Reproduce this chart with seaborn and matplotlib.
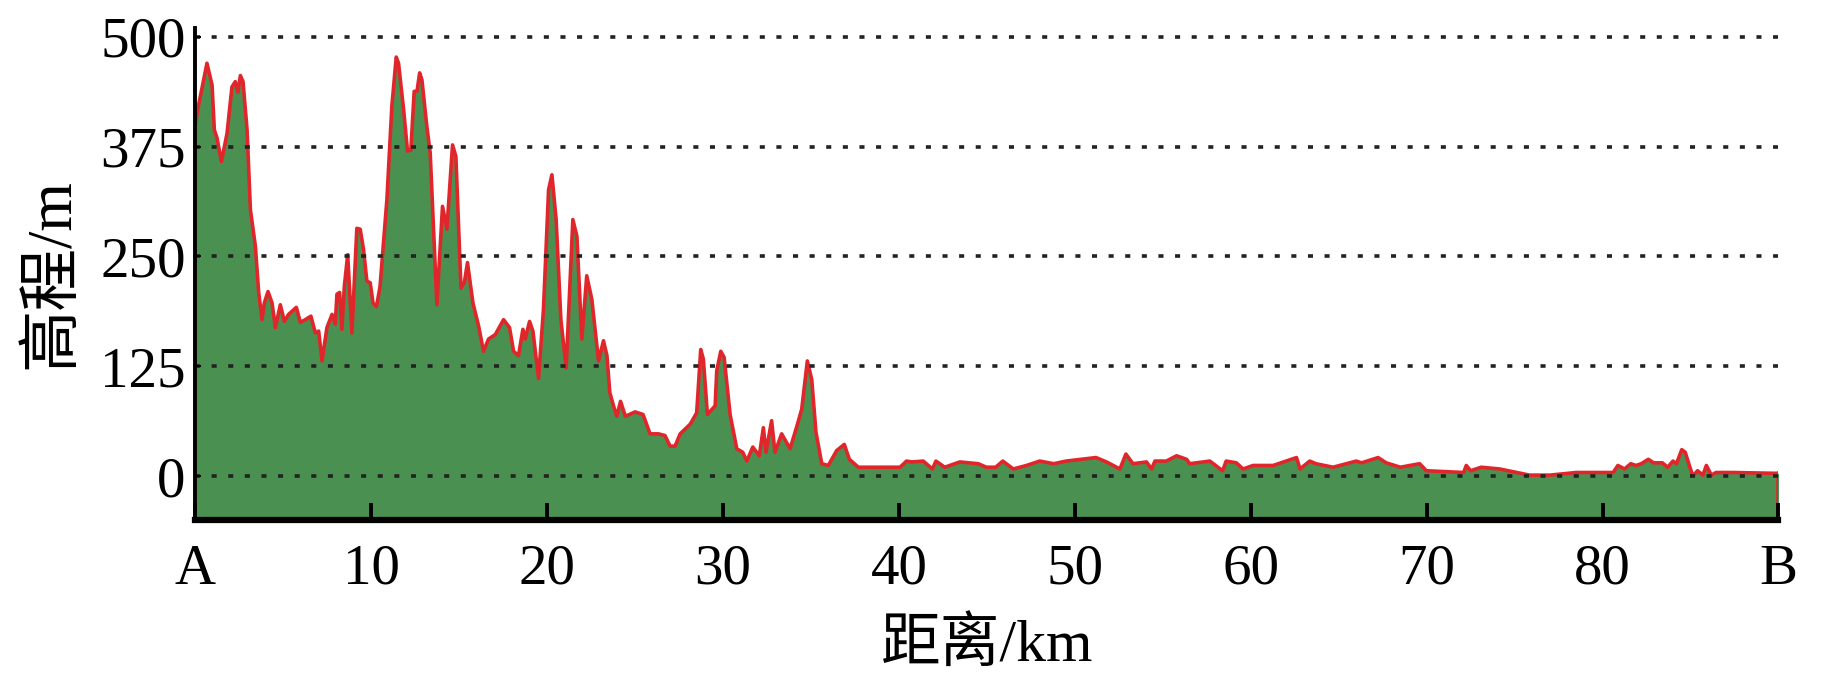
import numpy as np
import pandas as pd
import matplotlib
matplotlib.use('Agg')
import matplotlib.pyplot as plt
import seaborn as sns

# Профиль высот A -> B
km = [0, 0.13, 0.66, 0.95, 1.08, 1.23, 1.48, 1.8, 2.08, 2.27, 2.42, 2.56, 2.71, 2.94,
      3.13, 3.41, 3.6, 3.79, 3.92, 4.13, 4.36, 4.55, 4.83, 5.06, 5.3, 5.74, 5.97, 6.25,
      6.57, 6.82, 7.01, 7.2, 7.48, 7.77, 7.95, 8.05, 8.2, 8.33, 8.47, 8.66, 8.9, 9.18,
      9.37, 9.56, 9.75, 9.94, 10.1, 10.3, 10.5, 10.89, 11.17, 11.42, 11.55, 11.84, 12.06,
      12.25, 12.44, 12.6, 12.75, 12.88, 13.16, 13.35, 13.73, 14.05, 14.3, 14.62, 14.81,
      15.1, 15.29, 15.47, 15.78, 16.1, 16.38, 16.67, 17.05, 17.52, 17.86, 18.09, 18.37,
      18.62, 18.75, 19.0, 19.19, 19.51, 19.79, 20.08, 20.27, 20.51, 20.78, 21.08, 21.46,
      21.69, 21.97, 22.25, 22.54, 22.92, 23.2, 23.4, 23.56, 23.77, 23.96, 24.17, 24.45,
      25.0, 25.45, 25.85, 26.33, 26.7, 26.99, 27.27, 27.56, 28.13, 28.5, 28.73, 28.88,
      29.11, 29.55, 29.64, 29.87, 30.06, 30.4, 30.78, 31.12, 31.35, 31.69, 32.06, 32.29,
      32.44, 32.76, 32.95, 33.33, 33.81, 34.2, 34.47, 34.79, 35.04, 35.28, 35.61, 35.98,
      36.46, 36.89, 37.18, 37.69, 40.06, 40.43, 40.72, 41.38, 41.9, 42.1, 42.6, 43.46,
      44.5, 44.97, 45.5, 45.9, 46.5, 47.25, 48.0, 48.8, 49.5, 51.2, 51.8, 52.56, 52.9,
      53.3, 54.07, 54.36, 54.55, 55.2, 55.78, 56.35, 56.53, 57.67, 58.4, 58.6, 59.18,
      59.56, 60.13, 61.27, 62.6, 62.8, 63.35, 63.7, 64.68, 66.0, 66.3, 67.24, 67.7, 68.5,
      69.6, 69.98, 72.1, 72.25, 72.5, 73.1, 74.15, 75.85, 77.0, 78.5, 80.6, 80.87, 81.25,
      81.6, 81.9, 82.2, 82.6, 82.9, 83.4, 83.7, 84.0, 84.2, 84.5, 84.7, 84.9, 85.13, 85.4,
      85.7, 85.9, 86.18, 86.45, 87.4, 90.0]
elev = [400, 417, 470, 445, 394, 385, 358, 390, 443, 449, 437, 456, 449, 394,
        303, 262, 209, 178, 197, 210, 197, 169, 195, 176, 184, 192, 175, 178,
        182, 163, 165, 131, 169, 184, 173, 207, 209, 167, 216, 252, 163, 282,
        281, 258, 222, 220, 197, 193, 216, 315, 421, 477, 470, 417, 370,
        371, 438, 438, 459, 451, 398, 368, 195, 307, 281, 377, 364,
        214, 220, 243, 197, 171, 142, 156, 161, 178, 169, 142, 137,
        167, 156, 176, 165, 111, 190, 326, 343, 292, 178, 123, 292,
        273, 156, 228, 201, 131, 154, 137, 95, 80, 68, 85, 68,
        73, 70, 48, 48, 46, 34, 34, 48, 59, 72, 144, 133,
        70, 80, 120, 142, 135, 70, 31, 27, 17, 33, 23, 55,
        27, 63, 27, 48, 31, 57, 76, 131, 110, 50, 14, 12,
        29, 36, 19, 10, 10, 17, 16, 17, 8, 17, 10, 16,
        14, 10, 10, 17, 8, 12, 17, 14, 17, 21, 16, 8, 25,
        14, 16, 8, 17, 17, 23, 19, 14, 17, 6, 17, 15,
        8, 12, 12, 21, 8, 17, 14, 10, 17, 15, 21, 15, 10,
        14, 6, 4, 12, 6, 10, 8, 1, 1, 4, 4, 12, 8,
        14, 12, 14, 19, 15, 15, 10, 17, 14, 30, 27, 14, 0, 6,
        1, 12, 1, 4, 4, 3]

x_ticks = [0, 10, 20, 30, 40, 50, 60, 70, 80, 90]
x_tick_labels = ['A', '10', '20', '30', '40', '50', '60', '70', '80', 'B']
y_ticks = [0, 125, 250, 375, 500]

df = pd.DataFrame({'km': km, 'elev': elev})

sns.set_style('white')
plt.rcParams['font.family'] = ['Liberation Serif', 'Noto Sans CJK SC']
plt.rcParams['text.color'] = 'black'
plt.rcParams['xtick.color'] = 'black'
plt.rcParams['ytick.color'] = 'black'
plt.rcParams['axes.labelcolor'] = 'black'

fig = plt.figure(figsize=(18.43, 6.85), dpi=100)
ax = fig.add_axes([0.106, 0.241, 0.859, 0.718])

y_min, y_max = -50, 510
green = '#4a9151'
red = '#e0262b'

ax.fill_between(df['km'], df['elev'], y_min, color=green, lw=0, zorder=1)
sns.lineplot(data=df, x='km', y='elev', ax=ax, color=red, lw=2.6, zorder=2,
             estimator=None, sort=False)
# правый край профиля
ax.plot([df['km'].iloc[-1]] * 2, [df['elev'].iloc[-1], y_min], color=red, lw=2.6, zorder=2)

ax.set_xlim(0, 90)
ax.set_ylim(y_min, y_max)
ax.set_xticks(x_ticks)
ax.set_xticklabels(x_tick_labels)
ax.set_yticks(y_ticks)

ax.set_axisbelow(False)
ax.yaxis.grid(True, color='#222222', lw=2.6, linestyle=(0, (1.4, 3.2)))
ax.xaxis.grid(False)

for s in ['top', 'right']:
    ax.spines[s].set_visible(False)
ax.spines['left'].set_color('black')
ax.spines['left'].set_linewidth(2.8)
ax.spines['bottom'].set_color('black')
ax.spines['bottom'].set_linewidth(4.5)
ax.spines['left'].set_zorder(5)
ax.spines['bottom'].set_zorder(5)

ax.tick_params(axis='x', direction='in', length=12, width=2.8, color='black',
               pad=17, labelsize=41, bottom=True)
ax.tick_params(axis='y', direction='in', length=4, width=1.5, color='black',
               pad=7, labelsize=41, left=True)

ax.set_xlabel('距离/km', fontsize=43, labelpad=16)
ax.set_ylabel('高程/m', fontsize=45, labelpad=13)

fig.savefig('out.png', dpi=100)
